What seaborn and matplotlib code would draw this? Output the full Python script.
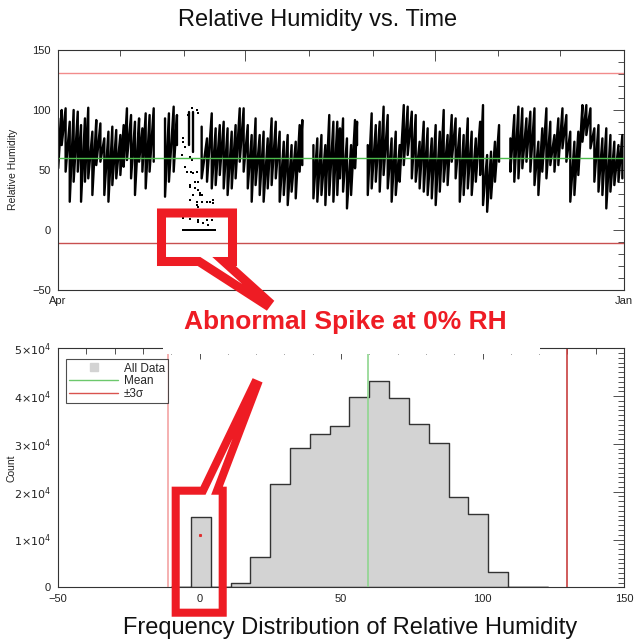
import numpy as np
import pandas as pd
import matplotlib
matplotlib.use("Agg")
import matplotlib.pyplot as plt
import matplotlib.dates as mdates
from matplotlib.patches import Polygon, Rectangle
from matplotlib.lines import Line2D
from matplotlib.ticker import MultipleLocator
import seaborn as sns

START = pd.Timestamp("2012-04-01")
END = pd.Timestamp("2013-01-01")

run_id = ([0] * 26 + [1] * 4 + [2, 3] + [4] * 26 + [5] * 13 + [6] * 34 + [7] * 29)
day = [0.1, 1.8, 3.7, 5.7, 7.6, 9.6, 11.2, 13.1, 14.7, 16.7, 18.6, 20.6, 22.5,
       24.5, 26.4, 28.3, 30.3, 31.9, 33.5, 35.5, 37.4, 39.4, 41.0, 42.6, 44.5, 46.5,
       52.0, 53.9, 56.2, 57.8,
       63.7, 65.8,
       69.8, 72.4, 74.7, 76.6, 78.6, 80.5, 82.4, 84.4, 86.3, 88.3, 90.2, 92.2, 94.1,
       96.0, 98.0, 99.9, 101.9, 103.8, 105.8, 107.7, 109.7, 111.6, 113.5, 115.5, 117.4, 118.7,
       124.1, 126.0, 128.0, 129.9, 131.8, 133.8, 135.7, 137.0, 138.5, 140.4, 142.4, 144.3, 145.3,
       150.5, 152.4, 154.4, 156.3, 158.2, 160.2, 162.1, 164.1, 166.0, 168.0, 169.9, 171.9,
       173.8, 175.7, 177.7, 179.6, 181.6, 183.5, 185.5, 187.4, 189.3, 191.3, 193.2, 195.2,
       197.1, 199.1, 201.0, 203.0, 205.1, 206.5, 208.5, 210.4, 212.3, 214.3,
       219.8, 221.7, 223.7, 225.6, 227.6, 229.5, 231.5, 233.4, 235.3, 237.3, 239.2, 241.2,
       243.1, 245.1, 247.0, 248.9, 250.9, 252.8, 254.8, 256.7, 258.7, 260.6, 262.6, 264.5,
       266.4, 268.4, 270.3, 272.3, 274.2]
rh_high = [92.9, 99.9, 101.3, 90.1, 99.9, 98.5, 87.3, 92.9, 101.8, 81.8, 91.5, 88.7, 76.2,
           81.8, 86.0, 83.2, 79.0, 87.3, 101.3, 95.7, 90.1, 92.9, 84.6, 97.1, 95.7, 101.3,
           92.9, 97.1, 102.7, 95.7,
           98.5, 98.5,
           86.0, 76.2, 97.1, 84.6, 87.3, 90.1, 84.6, 81.8, 87.3, 101.3, 101.3, 87.3, 79.0,
           92.9, 79.0, 81.8, 76.2, 92.9, 90.1, 81.8, 73.4, 79.0, 70.6, 73.4, 87.3, 91.5,
           70.6, 76.2, 79.0, 70.6, 95.7, 90.1, 90.1, 84.6, 92.9, 76.2, 70.6, 91.5, 90.1,
           70.6, 97.1, 87.3, 90.1, 102.7, 95.7, 76.2, 81.8, 70.6, 104.0, 102.7, 98.5,
           95.7, 73.4, 90.1, 84.6, 76.2, 87.3, 81.8, 99.9, 79.0, 95.7, 92.9, 84.6,
           79.0, 92.9, 81.8, 76.2, 90.1, 104.0, 62.3, 65.1, 73.4, 87.3,
           76.2, 95.7, 102.7, 101.3, 92.9, 98.5, 101.3, 73.4, 84.6, 101.3, 90.1, 79.0,
           92.9, 101.3, 95.7, 81.8, 73.4, 81.8, 104.0, 104.0, 101.3, 84.6, 87.3, 76.2,
           84.6, 79.0, 73.4, 70.6, 79.0]
rh_low = [51.2, 70.6, 48.4, 23.3, 40.0, 48.4, 23.3, 40.0, 42.8, 28.9, 53.9, 56.7, 28.9,
          23.3, 37.2, 42.8, 45.6, 52.5, 58.1, 42.8, 28.9, 56.7, 48.4, 34.4, 48.4, 56.7,
          27.5, 40.0, 48.4, 70.6,
          70.6, 65.1,
          42.8, 40.0, 34.4, 37.2, 45.6, 34.4, 28.9, 34.4, 42.8, 56.7, 48.4, 34.4, 23.3,
          37.2, 28.9, 23.3, 34.4, 37.2, 42.8, 23.3, 28.9, 20.5, 31.7, 26.1, 48.4, 53.9,
          26.1, 23.3, 28.9, 20.5, 28.9, 23.3, 28.9, 42.8, 31.7, 17.7, 28.9, 51.2, 70.6,
          28.9, 34.4, 40.0, 31.7, 45.6, 34.4, 23.3, 28.9, 40.0, 53.9, 62.3, 42.8,
          40.0, 34.4, 31.7, 28.9, 26.1, 20.5, 31.7, 40.0, 37.2, 56.7, 42.8, 23.3,
          28.9, 34.4, 28.9, 40.0, 45.6, 20.5, 14.9, 26.1, 40.0, 56.7,
          48.4, 40.0, 42.8, 51.2, 56.7, 48.4, 37.2, 28.9, 48.4, 42.8, 53.9, 48.4,
          53.9, 67.9, 56.7, 23.3, 28.9, 45.6, 73.4, 79.0, 67.9, 40.0, 31.7, 28.9,
          17.7, 31.7, 37.2, 40.0, 42.8]

# isolated readings during the sensor fault (early June)
zero_day = [60.6, 61.2, 61.9, 62.5, 63.0, 63.6, 64.3, 64.9, 65.4, 66.0, 66.7, 67.3, 67.8,
            68.4, 69.1, 69.7, 70.2, 70.8, 71.5, 72.1, 72.6, 73.2, 73.9, 74.5, 75.0, 75.6, 76.2]
zero_rh = [0.0] * len(zero_day)
dot_day = [60.9, 61.7, 64.1, 65.0, 64.5, 65.8, 64.1, 66.6, 68.2, 69.0, 69.8, 64.1, 67.4,
           69.8, 72.3, 73.9, 75.5, 75.5, 68.2, 60.9, 64.1, 68.2, 72.3, 74.7, 70.6, 73.0,
           60.1, 60.9, 61.7, 62.5, 63.3, 65.0, 64.1, 65.8, 66.6, 67.4, 64.1, 60.9, 68.2,
           67.4, 68.2, 67.4, 68.2, 69.0, 67.4]
dot_rh = [73.4, 69.3, 60.9, 58.1, 48.4, 47.0, 35.9, 34.5, 33.1, 30.3, 28.9, 24.7, 23.3,
          23.3, 23.3, 23.3, 24.7, 22.0, 19.1, 9.5, 8.6, 8.0, 8.0, 8.0, 5.3, 3.9,
          62.3, 76.2, 52.5, 48.4, 95.7, 101.3, 37.2, 28.9, 40.0, 20.5, 12.2, 9.4, 6.6,
          99.9, 97.1, 48.4, 40.0, 28.9, 20.5]

# ---- statistics ----
rh_mean = 59.6
rh_3sigma = 71.0
hist_mean = 59.4
hist_3sigma = 70.5

# ---- histogram (bin width 7) ----
bin_edges = [-10, -3, 4, 11, 18, 25, 32, 39, 46, 53, 60, 67, 74, 81, 88, 95, 102, 109, 116, 123]
bin_counts = [0, 14800, 0, 1000, 6400, 21550, 29200, 32050, 33800, 39750, 43150,
              39550, 34100, 30250, 18950, 15250, 3250, 0, 0]

W, H = 635, 641
RED = "#ee1c24"


def fig_pts(pts):
    # figure pixel coords (origin top-left) -> figure fraction
    return [(x / W, 1 - y / H) for x, y in pts]


def style_axes(ax):
    for sp in ax.spines.values():
        sp.set_visible(True)
        sp.set_color("#333333")
        sp.set_linewidth(0.8)
    ax.tick_params(which="both", direction="in", top=True, right=True,
                   colors="#333333", labelcolor="#222222", labelsize=8, width=0.6)
    ax.tick_params(which="major", length=8, pad=5)
    ax.tick_params(which="minor", length=4)


sns.set_style("white")
plt.rcParams["font.family"] = ["Liberation Sans", "DejaVu Sans"]

fig = plt.figure(figsize=(6.35, 6.41), dpi=100)
ax1 = fig.add_axes([58 / W, 1 - 289.5 / H, 566 / W, 239.5 / H])
ax2 = fig.add_axes([58 / W, 1 - 587.3 / H, 566 / W, 239.0 / H])

# ---------- top: RH vs time ----------
rows = []
for r, d, hi, lo in zip(run_id, day, rh_high, rh_low):
    t = START + pd.Timedelta(days=d)
    rows.append((r, t, hi))
    rows.append((r, t, lo))
ts = pd.DataFrame(rows, columns=["run", "time", "rh"])

sns.lineplot(data=ts, x="time", y="rh", units="run", estimator=None, sort=False,
             color="black", linewidth=1.7, ax=ax1, legend=False)

zeros = pd.DataFrame({"time": [START + pd.Timedelta(days=d) for d in zero_day],
                      "rh": zero_rh})
dots = pd.DataFrame({"time": [START + pd.Timedelta(days=d) for d in dot_day],
                     "rh": dot_rh})
sns.scatterplot(data=zeros, x="time", y="rh", marker="s", s=4, color="black",
                linewidth=0, ax=ax1, legend=False)
sns.scatterplot(data=dots, x="time", y="rh", marker="s", s=1.2, color="black",
                linewidth=0, ax=ax1, legend=False)

ax1.axhline(rh_mean + rh_3sigma, color="#f28b8b", lw=1.0)
ax1.axhline(rh_mean, color="#4cbb4c", lw=1.0)
ax1.axhline(rh_mean - rh_3sigma, color="#c85050", lw=1.0)

ax1.set_xlim(START, END)
ax1.set_ylim(-50, 150)
major_dates = [START, pd.Timestamp("2012-07-01"), pd.Timestamp("2012-10-01"), END]
ax1.set_xticks(major_dates, labels=["Apr", "", "", "Jan"])
ax1.xaxis.set_minor_locator(mdates.MonthLocator())
ax1.yaxis.set_major_locator(MultipleLocator(50))
ax1.yaxis.set_minor_locator(MultipleLocator(10))
ax1.set_xlabel("")
ax1.set_ylabel("Relative Humidity", fontsize=7.5, color="#222222")
ax1.yaxis.set_label_coords(-0.071, 0.5)
style_axes(ax1)

# ---------- bottom: histogram ----------
centers = [e + 3.5 for e in bin_edges[:-1]]
sns.histplot(x=centers, weights=bin_counts, bins=bin_edges, element="step", fill=True,
             color="#d3d3d3", edgecolor="#333333", linewidth=1.0, alpha=1, ax=ax2)
ax2.axvline(hist_mean - hist_3sigma, color="#f4a3a3", lw=1.2)
ax2.axvline(hist_mean, color="#8fd68f", lw=1.2)
ax2.axvline(hist_mean + hist_3sigma, color="#c84040", lw=1.2)
ax2.plot([0], [11000], marker="s", ms=1.2, color="#e03030", ls="none")

ax2.set_xlim(-50, 150)
ax2.set_ylim(0, 50000)
ax2.xaxis.set_major_locator(MultipleLocator(50))
ax2.xaxis.set_minor_locator(MultipleLocator(10))
ax2.set_yticks([0, 10000, 20000, 30000, 40000, 50000],
               labels=["0"] + [r"$%d{\times}10^{4}$" % k for k in range(1, 6)])
ax2.yaxis.set_minor_locator(MultipleLocator(1000))
ax2.set_xlabel("")
ax2.set_ylabel("Count", fontsize=7.5, color="#222222")
ax2.yaxis.set_label_coords(-0.074, 0.5)
style_axes(ax2)

handles = [Line2D([], [], marker="s", ls="none", color="#d3d3d3", markersize=6),
           Line2D([], [], color="#6cc86c", lw=1),
           Line2D([], [], color="#d9534f", lw=1)]
leg = ax2.legend(handles, ["All Data", "Mean", "\u00b13\u03c3"], loc="upper left",
                 bbox_to_anchor=(0.014, 0.955), fontsize=8.5, frameon=True, fancybox=False,
                 edgecolor="#222222", borderpad=0.3, handlelength=4.1, labelspacing=0.05,
                 handletextpad=0.5, borderaxespad=0)
leg.get_frame().set_linewidth(0.8)

# ---------- titles ----------
fig.text(318 / W, 1 - 20 / H, "Relative Humidity vs. Time", ha="center", va="center",
         fontsize=17, color="#111111")
fig.text(350 / W, 1 - 628 / H, "Frequency Distribution of Relative Humidity",
         ha="center", va="center", fontsize=17, color="#111111")

# ---------- callouts ----------
fig.patches.append(Rectangle((163 / W, 1 - 354 / H), 377 / W, 58 / H,
                             transform=fig.transFigure, facecolor="white",
                             edgecolor="none", zorder=3))
# flat two-point tips keep the mitred stroke from overshooting
top_callout = [(161.5, 213), (232.5, 213), (232.5, 261.5), (224, 261.5),
               (268.2, 301.4), (265.8, 304.6), (199, 261.5), (161.5, 261.5)]
bottom_callout = [(175.7, 490.7), (203, 490.7), (254.6, 383.4), (257.4, 384.6),
                  (217, 490.7), (222.7, 490.7), (222.7, 612.7), (175.7, 612.7)]
for pts, lw in [(top_callout, 6.5), (bottom_callout, 5.8)]:
    fig.patches.append(Polygon(fig_pts(pts), closed=True, transform=fig.transFigure,
                               facecolor="none", edgecolor=RED, linewidth=lw,
                               joinstyle="miter", zorder=4))
fig.text(345 / W, 1 - 322 / H, "Abnormal Spike at 0% RH", ha="center", va="center",
         fontsize=19, fontweight="bold", color=RED, zorder=5)

plt.savefig("out.png", dpi=100)
plt.close()
